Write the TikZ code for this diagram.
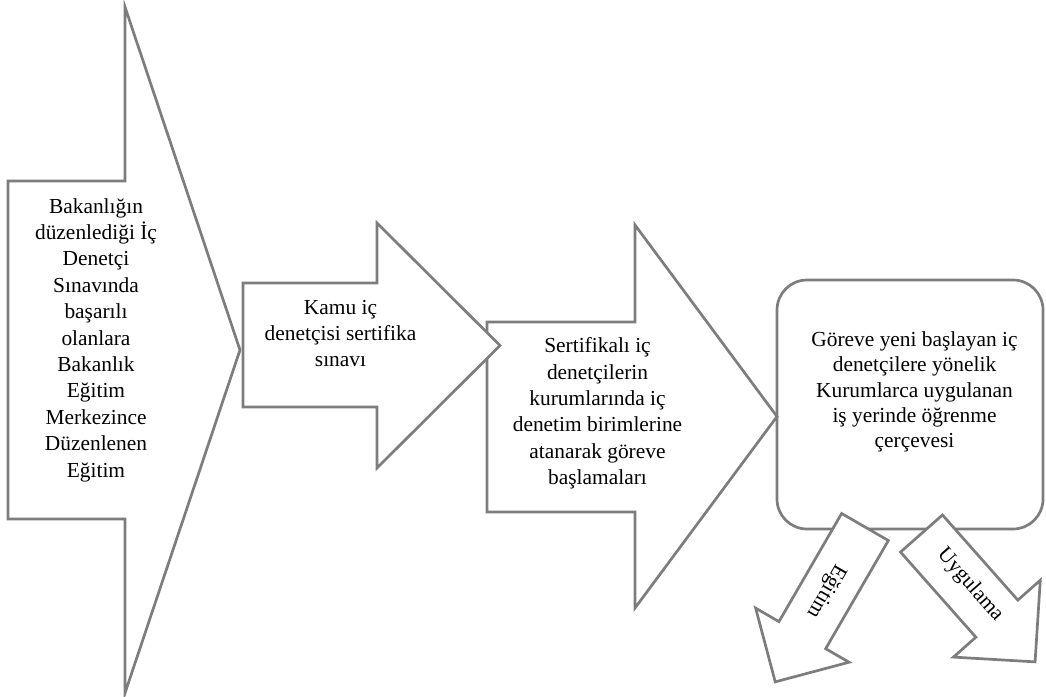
\documentclass[tikz,border=0pt]{standalone}
\usepackage{fontspec}
\setmainfont{Liberation Serif}
\definecolor{shapegray}{RGB}{125,125,125}
\tikzset{
  shp/.style={draw=shapegray, line width=2.7pt, fill=white},
  lbl/.style={font=\fontsize{21.4}{26.4}\selectfont, align=center, inner sep=0pt},
  lblr/.style={font=\fontsize{21.4}{25.3}\selectfont, align=center, inner sep=0pt},
}
\begin{document}
\begin{tikzpicture}[x=1pt, y=-1pt]
\useasboundingbox (0,0) rectangle (1046,696);

% rounded box
\draw[shp, rounded corners=30pt] (777,280) rectangle (1043,529);
\coordinate (boxc) at (910,404.5);

% small arrows under the box
\begin{scope}[shift={(865,527)}, rotate=-30.1]
  \draw[shp] (-27,0) -- (27,0) -- (27,125) -- (54,125) -- (0,179) -- (-54,125) -- (-27,125) -- cycle;
\end{scope}
\begin{scope}[shift={(921.5,533.5)}, rotate=41.5]
  \draw[shp] (-28,0) -- (28,0) -- (28,113.7) -- (58,113.7) -- (0,171.4) -- (-58,113.7) -- (-28,113.7) -- cycle;
\end{scope}

% arrow 3
\draw[shp] (487,322) -- (635,322) -- (635,225) -- (777,416.5) -- (635,608) -- (635,512) -- (487,512) -- cycle;
% arrow 2
\draw[shp] (243,283) -- (377,283) -- (377,223) -- (500,345.5) -- (377,468) -- (377,407) -- (243,407) -- cycle;
% arrow 1
\draw[shp] (8,181) -- (125,181) -- (125,7) -- (240,350) -- (125,693) -- (125,519) -- (8,519) -- cycle;

% texts
\node[lbl] (t1) at (96,340) {Bakanlığın\\düzenlediği İç\\Denetçi\\Sınavında\\başarılı\\olanlara\\Bakanlık\\Eğitim\\Merkezince\\Düzenlenen\\Eğitim};
\node[lbl] (t2) at (340.5,333.5) {Kamu iç\\denetçisi sertifika\\sınavı};
\node[lbl] (t3) at (597.5,413.5) {Sertifikalı iç\\denetçilerin\\kurumlarında iç\\denetim birimlerine\\atanarak göreve\\başlamaları};
\node[lblr] (t4) at (914.5,392) {Göreve yeni başlayan iç\\denetçilere yönelik\\Kurumlarca uygulanan\\iş yerinde öğrenme\\çerçevesi};
\node[lbl, rotate=-120] (t5) at (826,591) {Eğitim};
\node[lbl, rotate=-48.7] (t6) at (970,585) {Uygulama};
\end{tikzpicture}
\end{document}
